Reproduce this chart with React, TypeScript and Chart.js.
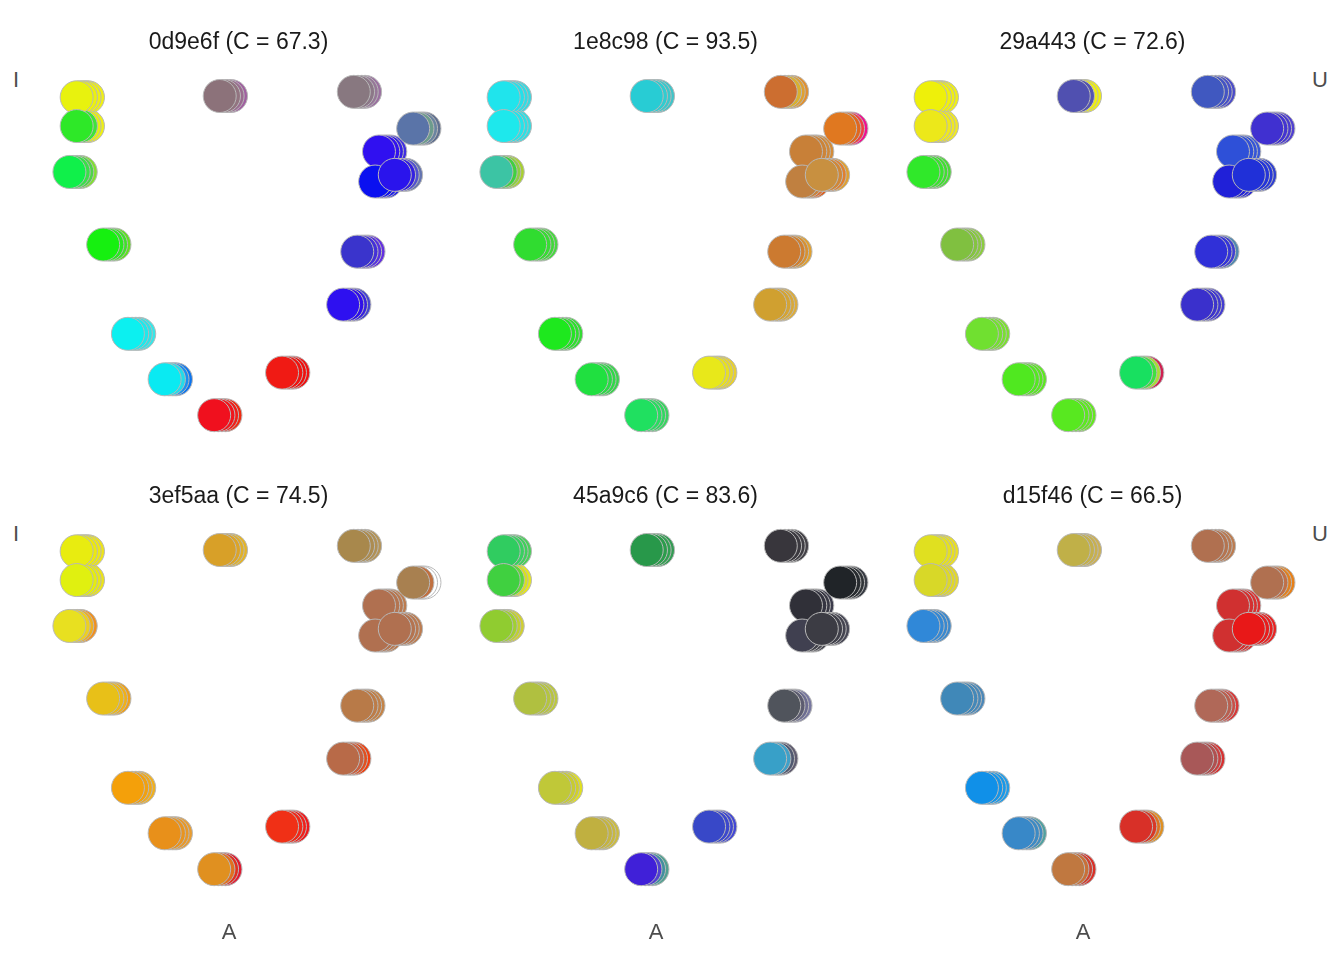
import React, { useEffect, useRef } from "react";
import { Chart, registerables } from "chart.js";

Chart.register(...registerables);

// Vowel chart positions (frontness 0-100, height 0-100), one per vowel
const vowelX = [12.1, 12.1, 10.4, 18.3, 24.1, 32.7, 44.3, 60.2, 74.5, 77.8, 82.9, 82.0, 86.6, 90.9, 77.0, 45.6];
const vowelY = [90.3, 83.4, 72.4, 55.0, 33.6, 22.7, 14.1, 24.3, 40.6, 53.3, 77.3, 70.1, 71.7, 82.8, 91.6, 90.6];
// display shift of the 4 trials of every vowel
const trialShift = [0, 1.0, 1.85, 2.65];

const participants = ["0d9e6f", "1e8c98", "29a443", "3ef5aa", "45a9c6", "d15f46"];
const consistency = [67.3, 93.5, 72.6, 74.5, 83.6, 66.5];

// colours: per vowel [trial1, trial2, trial3, trial4]
const colors0d9e6f = [
  ["#e8f20e", "#eaf010", "#eef012", "#f0f014"],
  ["#2ee828", "#3ee43a", "#e6f010", "#eef014"],
  ["#10f04a", "#38e048", "#4ed448", "#80e030"],
  ["#16f010", "#2ae820", "#3ee228", "#60e020"],
  ["#0cf0f0", "#1ee8ec", "#2ae4e8", "#38e6e8"],
  ["#0aeaf2", "#22dcea", "#1a90f0", "#0c74ee"],
  ["#f0101e", "#f0161c", "#f01e18", "#f02a10"],
  ["#f01a14", "#f01410", "#f00e0c", "#f01010"],
  ["#2e10f0", "#3010e8", "#3620e0", "#4444d0"],
  ["#3a34cc", "#4430d8", "#5430e0", "#6430e0"],
  ["#3010f0", "#3212ee", "#3420e4", "#4030e0"],
  ["#0a10f0", "#1010f0", "#1c1cee", "#2a2ae4"],
  ["#2a14ec", "#3420e0", "#5050d0", "#6474b0"],
  ["#5a74a8", "#6c9c8c", "#6a84a0", "#607090"],
  ["#887880", "#8c7888", "#967898", "#9a70a0"],
  ["#8c727a", "#927480", "#9a6c90", "#a060a0"],
];
const colors1e8c98 = [
  ["#20e4ec", "#24e0ea", "#30dce4", "#38d8e0"],
  ["#1ee8ec", "#22e4ea", "#2ae0e6", "#34dce0"],
  ["#3cc4a4", "#40d040", "#8cd040", "#a8d030"],
  ["#30dc30", "#38dc34", "#40d838", "#48d840"],
  ["#1ee81e", "#24e424", "#2ce02c", "#34dc34"],
  ["#20e040", "#28dc44", "#30d848", "#38d44c"],
  ["#20e060", "#28dc60", "#30d860", "#38d460"],
  ["#e8e81a", "#e8e020", "#e8d828", "#e8d030"],
  ["#d0a030", "#d4a434", "#d8a838", "#dcac3c"],
  ["#cc7a30", "#d08030", "#d89030", "#e0a030"],
  ["#c88038", "#cc8438", "#d08838", "#d48c38"],
  ["#c08040", "#c88440", "#e07030", "#e06020"],
  ["#c89040", "#d08838", "#e08030", "#e0a030"],
  ["#e07820", "#e06820", "#f04040", "#f01090"],
  ["#cc6e30", "#d8b030", "#e0a030", "#e09030"],
  ["#28ccd4", "#30ccd0", "#38c8cc", "#40c4c8"],
];
const colors29a443 = [
  ["#eef00a", "#f0f00c", "#f0f010", "#f0f014"],
  ["#ece81a", "#eee81c", "#f0e820", "#f0e824"],
  ["#30e82a", "#38e42c", "#40e030", "#48dc34"],
  ["#80c040", "#84c440", "#88c840", "#8ccc40"],
  ["#70e030", "#74e030", "#78e030", "#7ce030"],
  ["#50e820", "#54e820", "#58e820", "#5ce820"],
  ["#58e820", "#5ce820", "#60e820", "#64e820"],
  ["#18e060", "#40e040", "#a8e030", "#d02050"],
  ["#3a30cc", "#3c34cc", "#4038d0", "#443cd0"],
  ["#3030d8", "#3434d8", "#4040d0", "#5088b0"],
  ["#2e50d8", "#3050d8", "#3454d8", "#3858d8"],
  ["#2020d8", "#2424d8", "#2828d8", "#2c2cd8"],
  ["#2030d8", "#2434d8", "#2838d8", "#3040d0"],
  ["#4030d0", "#4434d0", "#4838d0", "#5040d0"],
  ["#4058c0", "#4454c4", "#4850c8", "#4c4cc8"],
  ["#5050b0", "#5454b0", "#f0f010", "#f0f010"],
];
const colors3ef5aa = [
  ["#e8ec10", "#eae810", "#ece814", "#eee418"],
  ["#e0f010", "#e4ec10", "#e8e814", "#ece418"],
  ["#e8e020", "#ecd020", "#f0b020", "#f09020"],
  ["#e8c018", "#ecb818", "#f0b018", "#f0a018"],
  ["#f4a00a", "#f0a010", "#f0a818", "#f0b020"],
  ["#e8901a", "#e89420", "#e89828", "#e89c30"],
  ["#e09020", "#e07020", "#e03020", "#e01830"],
  ["#f03016", "#f02818", "#f0201a", "#f0181c"],
  ["#b86a48", "#c86040", "#e05020", "#f04010"],
  ["#b87a48", "#bc7c48", "#c08048", "#c48448"],
  ["#b07050", "#b47450", "#b87850", "#bc7c50"],
  ["#b07050", "#b47450", "#b87850", "#bc7c50"],
  ["#b07050", "#b47450", "#b87850", "#bc7c50"],
  ["#a88050", "#c07040", "#ffffff", "#ffffff"],
  ["#a8884c", "#ac8c50", "#b09054", "#b49458"],
  ["#d8a028", "#dca428", "#e0b028", "#e4b428"],
];
const colors45a9c6 = [
  ["#30cc60", "#38d060", "#40d05c", "#48d058"],
  ["#40d040", "#60d838", "#d8e020", "#e8e818"],
  ["#90cc30", "#a0d030", "#c0d030", "#d0d030"],
  ["#b0c040", "#b4c440", "#b8c440", "#bcc840"],
  ["#c0c838", "#c8cc30", "#d0d028", "#e0e020"],
  ["#c0b040", "#c4b440", "#c8b840", "#ccbc40"],
  ["#4020d8", "#5040d0", "#4090a0", "#50a090"],
  ["#3848c8", "#3c48cc", "#4048d0", "#4448d4"],
  ["#38a0c8", "#40a0c8", "#505870", "#605c70"],
  ["#50545c", "#5c5c70", "#6c6c90", "#7878a0"],
  ["#303038", "#343440", "#383844", "#3c3c4c"],
  ["#404050", "#44444c", "#484850", "#4c4c54"],
  ["#3c3c44", "#40404a", "#444450", "#484856"],
  ["#202428", "#282c30", "#303438", "#383c44"],
  ["#38363c", "#3c3a40", "#403e44", "#444248"],
  ["#28984a", "#2c9c4c", "#30a050", "#349c54"],
];
const colorsd15f46 = [
  ["#e0e020", "#e4e020", "#e8e020", "#ece020"],
  ["#d8d828", "#dcd828", "#e0d828", "#e4d828"],
  ["#3088d8", "#3488d4", "#3888d0", "#3c88cc"],
  ["#4088b8", "#4488b8", "#4888b8", "#4c88b8"],
  ["#1090e8", "#1494e8", "#1898e8", "#209ce8"],
  ["#3888c8", "#3c8ac4", "#408cc0", "#50a0a0"],
  ["#c07840", "#c87038", "#d04030", "#d83028"],
  ["#d83028", "#d83828", "#e07020", "#e09020"],
  ["#a85858", "#b05050", "#c84040", "#d83030"],
  ["#b06858", "#b86050", "#c85048", "#d83838"],
  ["#d03030", "#d43030", "#d83030", "#dc3030"],
  ["#d03030", "#d43030", "#d83030", "#dc3030"],
  ["#e81818", "#e81c1c", "#e82020", "#e82424"],
  ["#b07050", "#c07048", "#e08020", "#e88018"],
  ["#b07050", "#b47450", "#b87850", "#bc7c50"],
  ["#c0b048", "#c4b04c", "#c8b050", "#ccb054"],
];
const panelColors = [colors0d9e6f, colors1e8c98, colors29a443, colors3ef5aa, colors45a9c6, colorsd15f46];

const PANEL_W = 427;
const PANEL_H = 454;
const LEFT0 = 25;
const TOP0 = 20;
const FONT = "'Liberation Sans', Arial, sans-serif";

function Panel({ idx }: { idx: number }) {
  const ref = useRef<HTMLCanvasElement | null>(null);
  const col = idx % 3;
  const row = Math.floor(idx / 3);
  useEffect(() => {
    const cols = panelColors[idx];
    const datasets = trialShift.map((s, k) => ({
      label: `trial ${k + 1}`,
      data: vowelX.map((x, i) => ({ x: x + s, y: vowelY[i] })),
      backgroundColor: cols.map((c) => c[k]),
      borderColor: "#b8b8b8",
      borderWidth: 1,
      pointRadius: 16.5,
      pointHoverRadius: 16.5,
      clip: false as any,
    }));
    const chart = new Chart(ref.current as HTMLCanvasElement, {
      type: "scatter",
      data: { datasets },
      options: {
        animation: false,
        responsive: false,
        events: [],
        layout: { padding: 0, autoPadding: false },
        plugins: {
          legend: { display: false },
          tooltip: { enabled: false },
          title: {
            display: true,
            text: `${participants[idx]} (C = ${consistency[idx].toFixed(1)})`,
            font: { family: FONT, size: 23, weight: "normal", lineHeight: 1.2 },
            color: "#1a1a1a",
            padding: { top: 9.2, bottom: 0 },
          },
        },
        scales: {
          x: { type: "linear", display: false, min: 0, max: 100 },
          y: { type: "linear", display: false, min: 0, max: 100 },
        },
      },
    });
    return () => chart.destroy();
  }, [idx]);
  return (
    <canvas
      ref={ref}
      width={PANEL_W}
      height={PANEL_H}
      style={{
        position: "absolute",
        left: LEFT0 + col * PANEL_W,
        top: TOP0 + row * PANEL_H,
        width: PANEL_W,
        height: PANEL_H,
      }}
    />
  );
}

function Label({ text, x, y }: { text: string; x: number; y: number }) {
  return (
    <div
      style={{
        position: "absolute",
        left: x,
        top: y,
        transform: "translate(-50%, -50%)",
        fontFamily: FONT,
        fontSize: 22,
        color: "#4d4d4d",
        lineHeight: 1,
        whiteSpace: "nowrap",
      }}
    >
      {text}
    </div>
  );
}

export default function App() {
  return (
    <div
      style={{
        position: "fixed",
        left: 0,
        top: 0,
        width: 1344,
        height: 960,
        background: "#ffffff",
        overflow: "hidden",
      }}
    >
      {participants.map((_, i) => (
        <Panel key={i} idx={i} />
      ))}
      <Label text="I" x={16} y={80} />
      <Label text="I" x={16} y={534} />
      <Label text="U" x={1320} y={80} />
      <Label text="U" x={1320} y={534} />
      <Label text="A" x={229} y={932} />
      <Label text="A" x={656} y={932} />
      <Label text="A" x={1083} y={932} />
    </div>
  );
}
